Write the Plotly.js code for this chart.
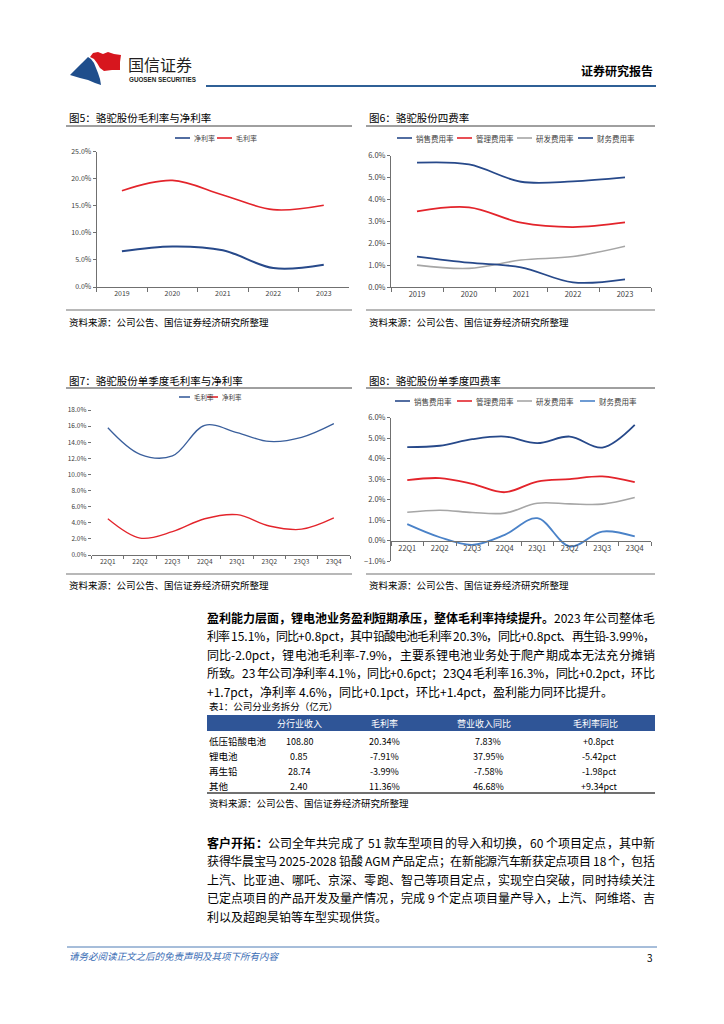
<!DOCTYPE html>
<html><head><meta charset="utf-8">
<script src="https://cdn.plot.ly/plotly-3.0.1.min.js"></script>
<style>body{margin:0;background:#fff}#chart{width:724px;height:1024px}</style>
</head><body><div id="chart"></div><script>
// ---------- data ----------
const years = ['2019','2020','2021','2022','2023'];
const netMarginAnnual = [6.6, 7.5, 6.8, 3.5, 4.1];
const grossMarginAnnual = [17.8, 19.7, 17.0, 14.3, 15.1];

const expNames = ['销售费用率','管理费用率','研发费用率','财务费用率'];
const salesExpAnnual = [5.68, 5.60, 4.81, 4.83, 5.01];
const mgmtExpAnnual = [3.46, 3.64, 2.94, 2.74, 2.95];
const rdExpAnnual = [1.00, 0.85, 1.23, 1.39, 1.86];
const finExpAnnual = [1.39, 1.11, 0.90, 0.21, 0.35];

const quarters = ['22Q1','22Q2','22Q3','22Q4','23Q1','23Q2','23Q3','23Q4'];
const grossMarginQ = [15.8, 12.5, 12.3, 16.1, 15.2, 14.1, 14.6, 16.3];
const netMarginQ = [4.5, 2.1, 2.9, 4.5, 5.0, 3.6, 3.2, 4.6];

const salesExpQ = [4.56, 4.63, 4.95, 5.08, 4.76, 5.08, 4.54, 5.65];
const mgmtExpQ = [2.95, 3.05, 2.77, 2.36, 2.88, 3.00, 3.13, 2.85];
const rdExpQ = [1.38, 1.48, 1.37, 1.34, 1.82, 1.79, 1.78, 2.10];
const finExpQ = [0.80, 0.16, -0.21, 0.28, 1.09, -0.29, 0.44, 0.20];

const chartTitles = ['图5：骆驼股份毛利率与净利率','图6：骆驼股份四费率','图7：骆驼股份单季度毛利率与净利率','图8：骆驼股份单季度四费率'];
const sourceText = '资料来源：公司公告、国信证券经济研究所整理';

const tableTitle = '表1：公司分业务拆分（亿元）';
const tableHeader = ['分行业收入','毛利率','营业收入同比','毛利率同比'];
const segments = ['低压铅酸电池','锂电池','再生铅','其他'];
const segRevenue = ['108.80','0.85','28.74','2.40'];
const segGrossMargin = ['20.34%','-7.91%','-3.99%','11.36%'];
const segRevYoY = ['7.83%','37.95%','-7.58%','46.68%'];
const segGmYoY = ['+0.8pct','-5.42pct','-1.98pct','+9.34pct'];

const para1Bold = '盈利能力层面，锂电池业务盈利短期承压，整体毛利率持续提升。';
const para1 = [
 '2023 年公司整体毛',
 '利率 15.1%，同比+0.8pct，其中铅酸电池毛利率 20.3%，同比+0.8pct、再生铅-3.99%，',
 '同比-2.0pct，锂电池毛利率-7.9%，主要系锂电池业务处于爬产期成本无法充分摊销',
 '所致。23 年公司净利率 4.1%，同比+0.6pct；23Q4 毛利率 16.3%，同比+0.2pct，环比',
 '+1.7pct，净利率 4.6%，同比+0.1pct，环比+1.4pct，盈利能力同环比提升。'
];
const para2Bold = '客户开拓：';
const para2 = [
 '公司全年共完成了 51 款车型项目的导入和切换，60 个项目定点，其中新',
 '获得华晨宝马 2025-2028 铅酸 AGM 产品定点；在新能源汽车新获定点项目 18 个，包括',
 '上汽、比亚迪、哪吒、京深、零跑、智己等项目定点，实现空白突破，同时持续关注',
 '已定点项目的产品开发及量产情况，完成 9 个定点项目量产导入，上汽、阿维塔、吉',
 '利以及超跑昊铂等车型实现供货。'
];

// ---------- layout helpers ----------
const W = 724, H = 1024;
const px = x => x / W, py = y => 1 - y / H;
const F = 'Noto Sans CJK SC, Liberation Sans, sans-serif';
const NAVY = '#27498a', RED = '#e3242b', GRAY = '#a6a6a6', BLUE7 = '#3a5f9c', LBLUE = '#4a82c8';

const traces = [];
function line(x, y, name, color, xa, ya, w) {
  traces.push({x, y, name, type:'scatter', mode:'lines', xaxis:xa, yaxis:ya,
    line:{color, width:w||1.8, shape:'spline', smoothing:1}, hoverinfo:'skip', showlegend:false});
}
line(years, netMarginAnnual, '净利率', NAVY, 'x', 'y', 2);
line(years, grossMarginAnnual, '毛利率', RED, 'x', 'y', 1.6);
line(years, salesExpAnnual, expNames[0], NAVY, 'x2', 'y2', 1.8);
line(years, mgmtExpAnnual, expNames[1], RED, 'x2', 'y2', 1.8);
line(years, rdExpAnnual, expNames[2], GRAY, 'x2', 'y2', 1.6);
line(years, finExpAnnual, expNames[3], NAVY, 'x2', 'y2', 1.8);
line(quarters, grossMarginQ, '毛利率', BLUE7, 'x3', 'y3', 1.3);
line(quarters, netMarginQ, '净利率', RED, 'x3', 'y3', 1.3);
line(quarters, salesExpQ, expNames[0], NAVY, 'x4', 'y4', 1.8);
line(quarters, mgmtExpQ, expNames[1], RED, 'x4', 'y4', 1.8);
line(quarters, rdExpQ, expNames[2], GRAY, 'x4', 'y4', 1.6);
line(quarters, finExpQ, expNames[3], LBLUE, 'x4', 'y4', 1.8);

function xax(x0, x1, n, fs, extra) {
  return Object.assign({domain:[px(x0), px(x1)], type:'category', range:[-0.5, n - 0.5], showgrid:false, zeroline:false,
    showline:true, linecolor:'#707070', linewidth:1, ticks:'outside', tickson:'boundaries', ticklen:4,
    tickcolor:'#707070', tickfont:{size:fs, color:'#404040', family:F}, fixedrange:true}, extra||{});
}
function yax(yTop, yBot, range, dtick, fs, extra) {
  return Object.assign({domain:[py(yBot), py(yTop)], range, dtick, tick0:0, showgrid:false, zeroline:false,
    showline:true, linecolor:'#707070', linewidth:1, ticks:'outside', ticklen:3, tickcolor:'#707070',
    tickformat:'.1f', ticksuffix:'%', tickfont:{size:fs, color:'#404040', family:F}, fixedrange:true}, extra||{});
}

const annotations = [], shapes = [];
function txt(x, y, text, size, opt) {
  annotations.push(Object.assign({xref:'paper', yref:'paper', x:px(x), y:py(y), text, showarrow:false,
    xanchor:'left', yanchor:'middle', font:{size, color:'#000', family:F}}, opt||{}));
}
function hline(x0, x1, y, color, width) {
  shapes.push({type:'line', xref:'paper', yref:'paper', x0:px(x0), x1:px(x1), y0:py(y), y1:py(y), line:{color, width}});
}
function legend(items, y, xs, len, fs) {
  items.forEach((it, i) => {
    hline(xs[i], xs[i] + len, y, it[1], 1.6);
    txt(xs[i] + len + 2, y, it[0], fs, {font:{size:fs, color:'#404040', family:F}});
  });
}
function path(pts) {
  return 'M' + pts.map(p => px(p[0]).toFixed(5) + ',' + py(p[1]).toFixed(5)).join(' L') + ' Z';
}

// justified body text: each line is split into glyph chunks that are spread to the column width
const ctx = document.createElement('canvas').getContext('2d');
function measure(s, bold, size) {
  ctx.font = (bold ? 'bold ' : '') + size + 'px "Noto Sans CJK SC", sans-serif';
  return ctx.measureText(s).width;
}
function chunks(str, bold) {
  const out = [], isLatin = c => /[A-Za-z0-9.+\-%]/.test(c);
  let i = 0;
  while (i < str.length) {
    if (isLatin(str[i])) { let j = i; while (j < str.length && isLatin(str[j])) j++; out.push({t:str.slice(i, j), bold}); i = j; }
    else { out.push({t:str[i], bold}); i++; }
  }
  return out;
}
function para(lines, bold, y0, size, x0, width) {
  lines.forEach((t, li) => {
    const cs = (li === 0 ? chunks(bold, true) : []).concat(chunks(t, false));
    cs.forEach(c => c.w = measure(c.t, c.bold, size));
    const nat = cs.reduce((a, c) => a + c.w, 0);
    const gap = li === lines.length - 1 ? 0 : (width - nat) / (cs.length - 1);
    let x = x0;
    const y = y0 + li * 18.5;
    cs.forEach(c => {
      if (c.t !== ' ') txt(x, y, c.bold ? '<b>' + c.t + '</b>' : c.t, size, {borderpad:0, borderwidth:0});
      x += c.w + gap;
    });
  });
}

// ---------- header ----------
shapes.push({type:'path', xref:'paper', yref:'paper', fillcolor:'#1f4e8c', line:{width:0},
  path: path([[70,75],[76,69],[82,63],[88,57],[91,59],[94,63],[96,68],[98,73],[100,79],[101,85],[95,83],[88,80],[80,78]])});
shapes.push({type:'path', xref:'paper', yref:'paper', fillcolor:'#d7161e', line:{width:0},
  path: path([[90,57],[93,53],[98,52],[103,54],[108,52],[114,54],[121,55],[120,62],[120,70],[112,70],[104,71],[100,68],[97,63],[94,59]])});
txt(126, 64, '国信证券', 16, {font:{size:16, color:'#231f20', family:F}});
txt(127, 79, '<b>GUOSEN SECURITIES</b>', 6.3, {font:{size:6.3, color:'#231f20', family:'Liberation Sans, sans-serif'}});
txt(655, 70, '<b>证券研究报告</b>', 12, {xanchor:'right'});
hline(206, 656, 86, '#2f6096', 2.2);

// ---------- chart frames ----------
const frames = [[67, 352, 117, 126, 310, 322], [367, 655, 117, 126, 310, 322],
                [67, 352, 380, 388, 574, 585], [367, 655, 380, 388, 574, 585]];
frames.forEach((f, i) => {
  txt(f[0], f[2], chartTitles[i], 10.5);
  hline(f[0] - 1, f[1], f[3], '#404040', 1);
  hline(f[0] - 1, f[1], f[4], '#a0a0a0', 1.6);
  txt(f[0], f[5], sourceText, 9.5);
});

legend([['净利率', NAVY], ['毛利率', RED]], 138, [175, 217], 15, 7);
legend([[expNames[0], NAVY], [expNames[1], RED], [expNames[2], GRAY], [expNames[3], NAVY]], 138, [397, 457, 517, 578], 15, 7.5);
legend([['毛利率', BLUE7], ['净利率', RED]], 397, [179, 207], 11, 6.5);
legend([[expNames[0], NAVY], [expNames[1], RED], [expNames[2], GRAY], [expNames[3], LBLUE]], 401, [395, 457, 517, 580], 15, 7.5);

// ---------- paragraphs ----------
para(para1, para1Bold, 617, 12, 207, 448);
para(para2, para2Bold, 842, 12, 207, 448);

// ---------- table ----------
txt(207, 706, tableTitle, 9.5);
shapes.push({type:'rect', xref:'paper', yref:'paper', x0:px(207), x1:px(655), y0:py(715), y1:py(731), fillcolor:'#2f5597', line:{width:0}});
const colX = [299, 384, 484, 595];
tableHeader.forEach((h, i) => txt(colX[i], 723, h, 9, {xanchor:'center', font:{size:9, color:'#fff', family:F}}));
const cols = [segRevenue, segGrossMargin, segRevYoY, segGmYoY];
segments.forEach((s, r) => {
  const y = 741 + r * 15;
  txt(207, y, s, 9.5);
  cols.forEach((c, k) => txt(colX[k] + (k >= 2 ? 4 : 0), y, c[r], 9, {xanchor:'center'}));
});
hline(207, 655, 793, '#404040', 1.5);
txt(207, 803, sourceText, 9.5);

// ---------- footer ----------
hline(67, 657, 947, '#4f7cb5', 1);
txt(67, 956, '<i>请务必阅读正文之后的免责声明及其项下所有内容</i>', 9.5, {font:{size:9.5, color:'#3a6db5', family:F}});
txt(655, 957, '3', 10, {xanchor:'right'});

const layout = {
  width: W, height: H, margin:{l:0, r:0, t:0, b:0}, paper_bgcolor:'#fff', plot_bgcolor:'rgba(0,0,0,0)',
  showlegend:false, font:{family:F},
  xaxis: xax(96.7, 349, years.length, 7, {anchor:'y'}),
  yaxis: yax(151.7, 287, [0, 25], 5, 7, {anchor:'x'}),
  xaxis2: xax(391, 651, years.length, 7.5, {anchor:'y2'}),
  yaxis2: yax(155.7, 287, [0, 6], 1, 7.5, {anchor:'x2'}),
  xaxis3: xax(91.7, 350, quarters.length, 6.5, {anchor:'y3', ticklen:3}),
  yaxis3: yax(410, 555, [0, 18], 2, 6.5, {anchor:'x3', showline:false}),
  xaxis4: xax(391, 651, quarters.length, 7.5, {anchor:'free', position: py(540.7)}),
  yaxis4: yax(417.7, 561, [-1, 6], 1, 7.5, {anchor:'x4'}),
  annotations, shapes
};
Plotly.newPlot('chart', traces, layout, {staticPlot:true, displayModeBar:false});
</script></body></html>
